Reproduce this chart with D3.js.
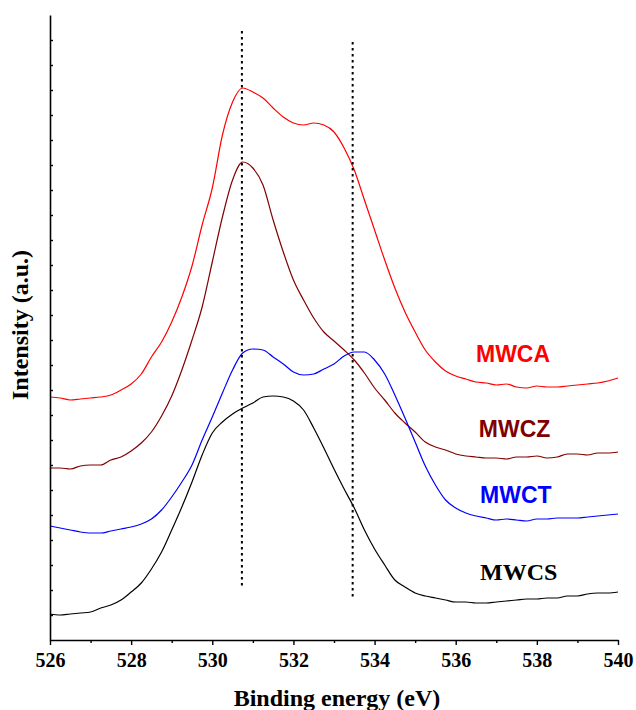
<!DOCTYPE html>
<html lang="en">
  <head>
    <meta charset="UTF-8" />
    <title>O 1s XPS</title>
    <script src="https://cdn.jsdelivr.net/npm/d3@7"></script>
    <style>
      body { margin: 0; background: #fff; }
    </style>
  </head>
  <body>
    <div class="chart"></div>
    <script type="text/javascript">
      // binding energy grid (eV), 0.25 eV step
      var energy = d3.range(526, 540.001, 0.25)

      // intensity (a.u.)
      var mwca = [243, 242, 240, 241, 242, 243, 245, 250, 256, 266, 283, 298, 318, 343, 374, 415, 452, 505, 538, 552,
        548, 542, 532, 523, 517, 515, 517, 515, 508, 492, 470, 440, 410, 380, 352, 328, 308, 290, 278, 269,
        264, 261, 258, 257, 255, 256, 253, 252, 254, 253, 253, 254, 255, 256, 257, 259, 262]
      var mwcz = [172, 172, 171, 174, 175, 175, 180, 183, 189, 197, 208, 224, 244, 270, 300, 333, 378, 423, 460, 478,
        472, 455, 420, 388, 360, 340, 322, 308, 299, 290, 280, 267, 252, 240, 227, 217, 208, 198, 193, 190,
        186, 184, 183, 182, 182, 181, 183, 183, 184, 182, 183, 186, 186, 185, 187, 187, 188]
      var mwct = [114, 112, 110, 108, 107, 107, 109, 111, 113, 116, 121, 130, 143, 158, 175, 200, 223, 247, 270, 287,
        291, 290, 283, 276, 268, 265, 266, 271, 276, 284, 288, 288, 280, 266, 245, 222, 198, 174, 155, 140,
        132, 127, 124, 122, 120, 121, 120, 119, 121, 121, 122, 122, 122, 123, 124, 125, 126]
      var mwcs = [26, 25, 26, 27, 28, 32, 35, 40, 48, 57, 71, 88, 110, 133, 158, 185, 207, 218, 226, 232,
        237, 243, 244, 243, 239, 230, 212, 192, 171, 151, 132, 110, 91, 75, 60, 53, 47, 44, 42, 40,
        38, 38, 37, 37, 38, 39, 40, 41, 41, 42, 42, 44, 44, 46, 47, 47, 48]

      var seriesNames = ['MWCA', 'MWCZ', 'MWCT', 'MWCS']
      var seriesValues = [mwca, mwcz, mwct, mwcs]
      var seriesColors = ['#ff0000', '#800000', '#0000ff', '#000000']

      // label positions (eV, intensity)
      var labelPos = [[536.5, 278], [536.57, 203], [536.6, 137], [536.6, 60]]

      // reference lines (eV) with their vertical extent
      var refLines = [[530.73, 54, 609], [533.46, 43, 598]]

      var xTicks = [526, 528, 530, 532, 534, 536, 538, 540]
      var xMinor = d3.range(527, 540, 2)
      var yTicks = d3.range(25, 601, 25)

      var svg = d3.select('.chart').append('svg').attr('width', 636).attr('height', 710)

      var xScale = d3.scaleLinear().domain([526, 540]).range([50, 618])
      var yScale = d3.scaleLinear().domain([0, 625]).range([640, 15])

      // curves
      var line = d3
        .line()
        .curve(d3.curveMonotoneX)
        .x((d) => xScale(d[0]))
        .y((d) => yScale(d[1]))

      seriesValues.forEach((vals, i) => {
        svg
          .append('path')
          .datum(vals.map((v, j) => [energy[j], v]))
          .attr('d', line)
          .attr('fill', 'none')
          .attr('stroke', seriesColors[i])
          .attr('stroke-width', 1.2)
      })

      // dotted reference lines
      svg
        .selectAll('.refLine')
        .data(refLines)
        .enter()
        .append('line')
        .attr('class', 'refLine')
        .attr('x1', (d) => xScale(d[0]))
        .attr('x2', (d) => xScale(d[0]))
        .attr('y1', (d) => yScale(d[2]))
        .attr('y2', (d) => yScale(d[1]))
        .attr('stroke', '#000')
        .attr('stroke-width', 2)
        .attr('stroke-dasharray', '2.5,3.5')

      // series labels
      svg
        .selectAll('.seriesLabel')
        .data(seriesNames)
        .enter()
        .append('text')
        .attr('class', 'seriesLabel')
        .attr('x', (d, i) => xScale(labelPos[i][0]))
        .attr('y', (d, i) => yScale(labelPos[i][1]))
        .style('font-family', (d, i) => (i === 3 ? '"Liberation Serif", "Times New Roman", serif' : '"Liberation Sans", Arial, sans-serif'))
        .style('font-weight', 'bold')
        .style('font-size', (d, i) => (i === 3 ? '24px' : '23px'))
        .style('fill', (d, i) => seriesColors[i])
        .text((d) => d)

      // x axis
      var xAxis = svg.append('g').attr('transform', 'translate(0, 640)')
      xAxis.call(d3.axisBottom(xScale).tickValues(xTicks).tickSize(5).tickSizeOuter(0).tickPadding(8))
      svg
        .append('g')
        .attr('transform', 'translate(0, 640)')
        .call(d3.axisBottom(xScale).tickValues(xMinor).tickSize(3).tickSizeOuter(0).tickFormat(''))
        .select('.domain')
        .remove()
      xAxis
        .selectAll('text')
        .style('font-family', '"Liberation Serif", "Times New Roman", serif')
        .style('font-weight', 'bold')
        .style('font-size', '20px')
        .style('fill', '#000')

      // y axis, inward ticks, no labels
      svg
        .append('g')
        .attr('transform', 'translate(50, 0)')
        .call(d3.axisRight(yScale).tickValues(yTicks).tickSize(3).tickSizeOuter(0).tickFormat(''))

      svg.selectAll('.domain').attr('stroke', '#000').attr('stroke-width', 1.6)
      svg.selectAll('.tick line').attr('stroke', '#000').attr('stroke-width', 1.4)

      // axis titles
      svg
        .append('text')
        .attr('x', 337)
        .attr('y', 706)
        .attr('text-anchor', 'middle')
        .style('font-family', '"Liberation Serif", "Times New Roman", serif')
        .style('font-weight', 'bold')
        .style('font-size', '24px')
        .text('Binding energy (eV)')

      svg
        .append('text')
        .attr('transform', 'translate(28, 325) rotate(-90)')
        .attr('text-anchor', 'middle')
        .style('font-family', '"Liberation Serif", "Times New Roman", serif')
        .style('font-weight', 'bold')
        .style('font-size', '24px')
        .text('Intensity (a.u.)')
    </script>
  </body>
</html>
